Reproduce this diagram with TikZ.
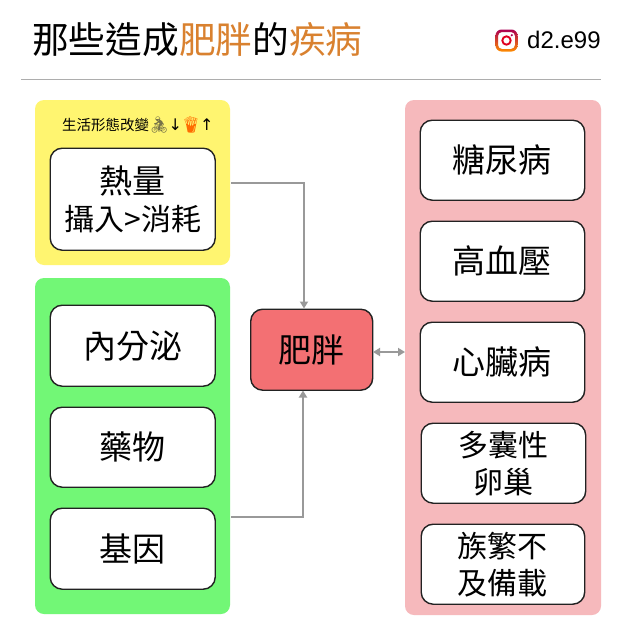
\documentclass[tikz,border=0pt]{standalone}
\usepackage{fontspec}
\setmainfont{Liberation Sans}
\newfontfamily\cjk{Noto Sans CJK TC}
\newfontfamily\emo{Noto Emoji}
\newfontfamily\sym{DejaVu Sans}
\definecolor{yel}{HTML}{FFF570}
\definecolor{grn}{HTML}{72F776}
\definecolor{pnk}{HTML}{F6B9BC}
\definecolor{rd}{HTML}{F37073}
\definecolor{org}{HTML}{D9812F}
\definecolor{conn}{HTML}{999999}
\definecolor{edge}{HTML}{222222}
\usetikzlibrary{arrows.meta}
\tikzset{
  x=1pt,y=-1pt,
  grp/.style={rounded corners=9pt,draw=none},
  bx/.style={draw=edge,line width=1.4pt,fill=white,rounded corners=12pt,align=center,inner sep=0pt,
    font=\fontsize{33}{38}\selectfont\cjk},
  conn/.style={draw=conn,line width=2pt,-{Triangle[length=7pt,width=8pt]}},
  conn2/.style={draw=conn,line width=2pt,{Triangle[length=7pt,width=8pt]}-{Triangle[length=7pt,width=8pt]}}
}
\newcommand{\bxat}[5]{\node[bx,minimum width=#3 pt-#1 pt-1pt,minimum height=#4 pt-#2 pt,anchor=north west] (#5) at (#1,#2)}
\begin{document}
\begin{tikzpicture}
\useasboundingbox (0,0) rectangle (635,635);
\fill[white] (0,0) rectangle (635,635);
% title
\node[anchor=west,inner sep=0pt,font=\fontsize{36.7}{40}\selectfont\cjk] (title) at (32,39.5) {那些造成\textcolor{org}{肥胖}的\textcolor{org}{疾病}};
% instagram
\node[anchor=west,inner sep=0pt,font=\fontsize{24}{26}\selectfont] (handle) at (527,40) {d2.e99};
\shade[even odd rule,bottom color=orange!90!yellow,top color=violet!65!red]
  [rounded corners=6pt] (495.5,29.5) rectangle (517.5,51.5)
  [rounded corners=4pt] (498,32) rectangle (515,49);
\draw[line width=1.9pt,draw=red!75!violet] (506.5,40.5) circle (4.2);
\fill[violet!70!red] (511.8,35.2) circle (1.2);
% rule
\draw[draw=black!32,line width=1pt] (21,79) -- (601,79);
% groups
\fill[grp,fill=yel] (35,100) rectangle (230,265);
\fill[grp,fill=grn] (35,278) rectangle (230,614);
\fill[grp,fill=pnk] (405,100) rectangle (601,615);
\node[anchor=west,inner sep=0pt,font=\fontsize{14.5}{16}\selectfont\cjk] (life) at (62,125) {生活形態改變{\fontsize{16}{16}\selectfont\emo\textcolor{black!45!yellow!70!black}{🚴}}\hspace{-1pt}{\fontsize{16}{16}\selectfont\sym↓}\hspace{-1pt}{\fontsize{16}{16}\selectfont\emo\textcolor{orange!85!red}{🍟}}\hspace{-1pt}{\fontsize{16}{16}\selectfont\sym↑}};
% nodes
\bxat{49.5}{147.5}{215.5}{249.5}{a} {熱量\\[-1pt]\fontsize{30}{36}\selectfont 攝入>消耗};
\bxat{49.5}{304.5}{215.5}{385.5}{b} {內分泌};
\bxat{49.5}{406.5}{215.5}{486.5}{c} {藥物};
\bxat{49.5}{507.5}{215.5}{588.5}{d} {基因};
\node[bx,fill=rd,minimum width=122pt,minimum height=81pt,anchor=north west] (f) at (250,308.5) {肥胖};
\bxat{419.5}{119.5}{585}{199.5}{r1} {糖尿病};
\bxat{419.5}{220.5}{585}{300.5}{r2} {高血壓};
\bxat{419.5}{321.5}{585}{401.5}{r3} {心臟病};
\bxat{420.5}{422.5}{586}{502.5}{r4} {\fontsize{30}{36}\selectfont 多囊性\\[-1pt]\fontsize{30}{36}\selectfont 卵巢};
\bxat{420.5}{523.5}{585}{603.5}{r5} {\fontsize{30}{36}\selectfont 族繁不\\[-1pt]\fontsize{30}{36}\selectfont 及備載};
% connectors
\coordinate (s1) at (231,183);
\coordinate (s2) at (231,517);
\coordinate (rg) at (405,352);
\coordinate (ft) at (304,308.5);
\coordinate (fb) at (303,390.5);
\coordinate (fr) at (373,352);
\draw[conn] (s1) -| (ft);
\draw[conn] (s2) -| (fb);
\draw[conn2] (fr) -- (rg);
\end{tikzpicture}
\end{document}
